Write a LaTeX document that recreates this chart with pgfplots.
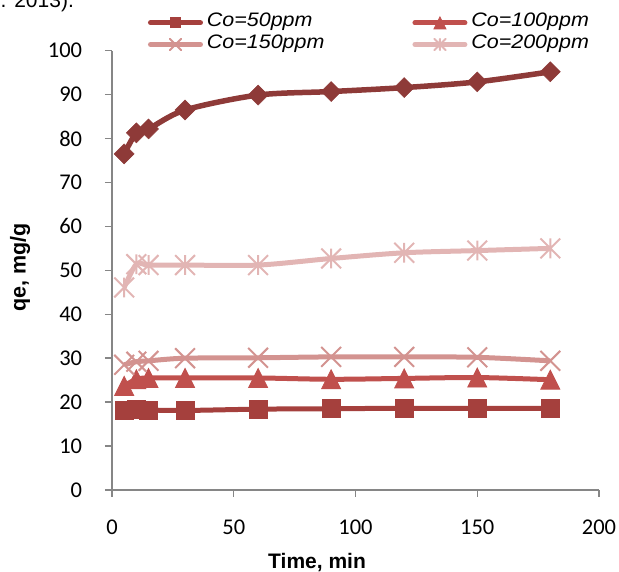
\documentclass[border=0pt]{standalone}
\usepackage{fontspec}
\setmainfont{Liberation Sans}
\newfontfamily\carlito{Carlito}
\usepackage{graphicx}
\usepackage{pgfplots}
\pgfplotsset{compat=1.18}

\definecolor{cA}{HTML}{8E3A38}
\definecolor{cB}{HTML}{A5403D}
\definecolor{cC}{HTML}{C0504D}
\definecolor{cD}{HTML}{D39390}
\definecolor{cE}{HTML}{E2B5B4}
\definecolor{axgray}{HTML}{868686}

\pgfdeclareplotmark{sdiamond}{%
  \pgfpathmoveto{\pgfqpoint{0pt}{\pgfplotmarksize}}%
  \pgfpathlineto{\pgfqpoint{\pgfplotmarksize}{0pt}}%
  \pgfpathlineto{\pgfqpoint{0pt}{-\pgfplotmarksize}}%
  \pgfpathlineto{\pgfqpoint{-\pgfplotmarksize}{0pt}}%
  \pgfpathclose\pgfusepathqfillstroke}
\pgfdeclareplotmark{etri}{%
  \pgfpathmoveto{\pgfqpoint{0pt}{\pgfplotmarksize}}%
  \pgfpathlineto{\pgfqpoint{\pgfplotmarksize}{-\pgfplotmarksize}}%
  \pgfpathlineto{\pgfqpoint{-\pgfplotmarksize}{-\pgfplotmarksize}}%
  \pgfpathclose\pgfusepathqfillstroke}
\pgfdeclareplotmark{xstar}{%
  \pgfpathmoveto{\pgfqpoint{-.7071\pgfplotmarksize}{-.7071\pgfplotmarksize}}%
  \pgfpathlineto{\pgfqpoint{.7071\pgfplotmarksize}{.7071\pgfplotmarksize}}%
  \pgfpathmoveto{\pgfqpoint{-.7071\pgfplotmarksize}{.7071\pgfplotmarksize}}%
  \pgfpathlineto{\pgfqpoint{.7071\pgfplotmarksize}{-.7071\pgfplotmarksize}}%
  \pgfpathmoveto{\pgfqpoint{0pt}{-.7071\pgfplotmarksize}}%
  \pgfpathlineto{\pgfqpoint{0pt}{.7071\pgfplotmarksize}}%
  \pgfusepathqstroke}

\pgfplotsset{myleg/.style={legend image code/.code={%
   \path[draw=none, fill=none] (0pt,-1.1pt) -- (55pt,-1.1pt);
   \draw[mark repeat=2, mark phase=2, ##1, line cap=round, mark size=#1]
     plot coordinates {(2.5pt,-1.1pt) (27.5pt,-1.1pt) (52.5pt,-1.1pt)};
}}}
\newcommand{\lt}[1]{\scalebox{1.1}[1]{#1}}

\begin{document}
\begin{tikzpicture}[x=1pt,y=1pt]
\begin{axis}[
  at={(112pt,82pt)}, anchor=south west,
  scale only axis, width=487pt, height=439.3pt,
  xmin=0, xmax=200, ymin=0, ymax=100,
  xtick={0,50,100,150,200}, ytick={0,10,...,100},
  axis lines*=left,
  axis line style={draw=axgray, line width=1.5pt},
  tick align=outside, tick pos=left,
  major tick length=7pt,
  tick style={draw=axgray, line width=1.5pt},
  /pgf/number format/assume math mode=true,
  tick label style={font=\carlito\fontsize{22.5}{26}\selectfont, inner sep=0pt},
  xticklabel style={font=\carlito\fontsize{22.5}{26}\selectfont, anchor=base, yshift=-38pt},
  yticklabel style={font=\carlito\fontsize{22.5}{26}\selectfont, anchor=east, xshift=-22.7pt},
  xlabel={Time, min},
  ylabel={qe, mg/g},
  xlabel style={font=\bfseries\fontsize{21}{24}\selectfont, at={(axis description cs:0.421,-0.1798)}, anchor=base, inner sep=0pt},
  ylabel style={font=\bfseries\fontsize{21.5}{24}\selectfont, at={(axis description cs:-0.1776,0.506)}, anchor=base, inner sep=0pt},
  clip=false,
  legend columns=2,
  legend cell align=left,
  legend style={at={(axis description cs:0.0739,1.0904)}, anchor=north west,
    draw=none, fill=none, inner sep=0pt, outer sep=0pt,
    row sep=0pt, column sep=4pt,
    nodes={inner sep=0pt, text height=16pt, text depth=5.6pt, font=\itshape\fontsize{19.5}{23}\selectfont},
    /tikz/every even column/.append style={column sep=88pt}},
]
\addplot[cA, line width=5.5pt, smooth, mark=sdiamond, mark size=10pt, mark options={solid, fill=cA, line width=0.5pt}, forget plot]
  coordinates {(5,76.5) (10,81.3) (15,82.2) (30,86.5) (60,89.9) (90,90.7) (120,91.6) (150,92.9) (180,95.2)};
\addplot[cB, line width=5pt, smooth, mark=square*, mark size=9pt, mark options={solid, fill=cB, line width=0.8pt}, myleg=5pt]
  coordinates {(5,18.2) (10,18.3) (15,18.2) (30,18.1) (60,18.4) (90,18.5) (120,18.6) (150,18.6) (180,18.6)};
\addlegendentry{\lt{Co=50ppm}}
\addplot[cC, line width=5pt, smooth, mark=etri, mark size=9.5pt, mark options={solid, fill=cC, line width=0.8pt}, myleg=6pt]
  coordinates {(5,23.7) (10,25.2) (15,25.5) (30,25.5) (60,25.5) (90,25.2) (120,25.4) (150,25.6) (180,25.1)};
\addlegendentry{\lt{Co=100ppm}}
\addplot[cD, line width=5pt, smooth, mark=x, mark size=14pt, mark options={solid, line width=2pt}, myleg=8pt]
  coordinates {(5,28.5) (10,29.2) (15,29.4) (30,30.0) (60,30.1) (90,30.3) (120,30.3) (150,30.2) (180,29.4)};
\addlegendentry{\lt{Co=150ppm}}
\addplot[cE, line width=5pt, smooth, mark=xstar, mark size=14pt, mark options={solid, line width=2pt}, myleg=8pt]
  coordinates {(5,46.1) (10,51.4) (15,51.2) (30,51.2) (60,51.2) (90,52.7) (120,54.0) (150,54.5) (180,55.0)};
\addlegendentry{\lt{Co=200ppm}}
\end{axis}
\node[anchor=base west, inner sep=0pt, font=\fontsize{21}{24}\selectfont] at (0.5,564.5) {. 2013).};
\pgfresetboundingbox
\path[use as bounding box] (0,0) rectangle (619,572);
\end{tikzpicture}
\end{document}
